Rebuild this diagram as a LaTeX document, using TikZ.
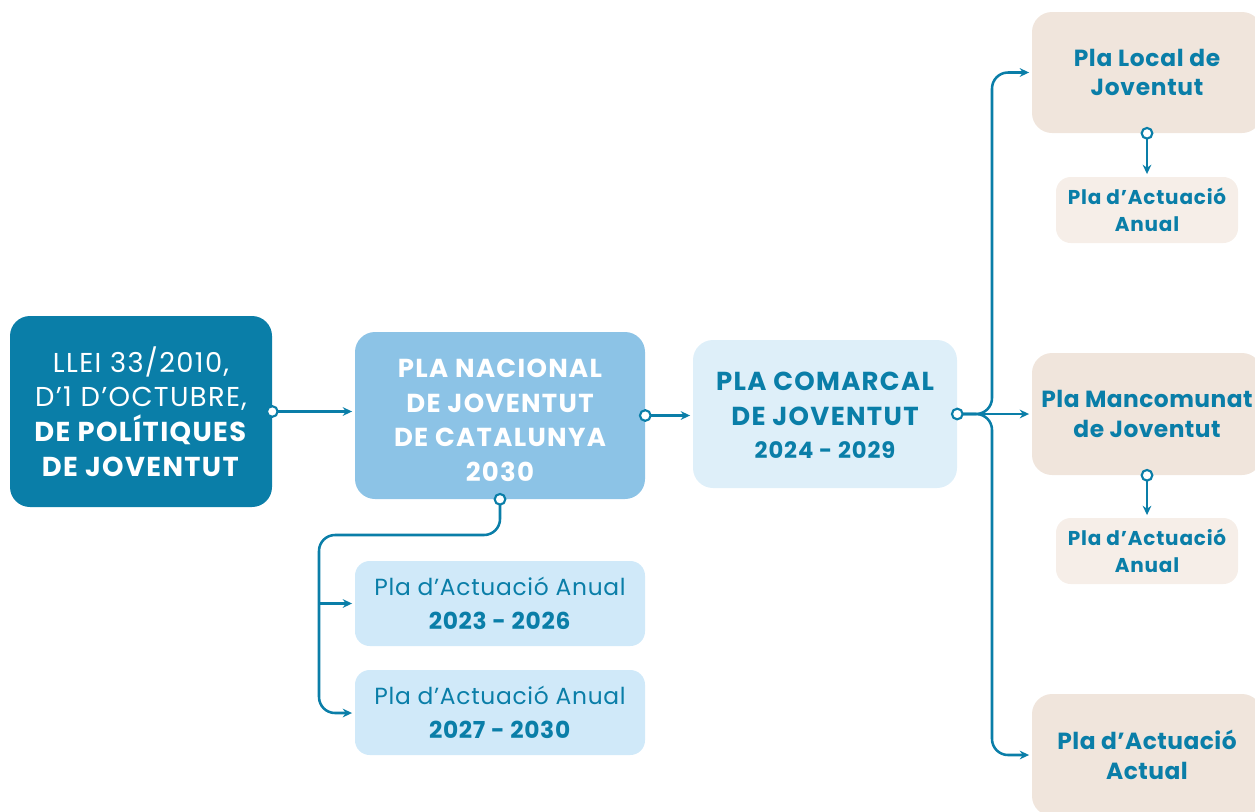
\documentclass[tikz,border=0pt]{standalone}
\usepackage{fontspec}
\setmainfont{Poppins}
\usetikzlibrary{arrows.meta}
\definecolor{teal1}{HTML}{0A7EA8}
\definecolor{nacfill}{HTML}{8CC3E6}
\definecolor{comfill}{HTML}{DEEFF9}
\definecolor{anfill}{HTML}{D0E9F9}
\definecolor{locfill}{HTML}{F0E5DC}
\definecolor{smfill}{HTML}{F6EEE8}
\newcommand{\lsp}[1]{\addfontfeatures{LetterSpace=#1}}
\tikzset{
  box/.style={rounded corners=15pt, inner sep=0pt, align=center, text=teal1},
  conn/.style={draw=teal1, line width=1.9pt, -{Stealth[length=7pt,width=6.5pt]}, shorten >=2pt},
  dotc/.style={circle, draw=teal1, fill=white, line width=1.6pt, minimum size=8pt, inner sep=0pt},
}
\begin{document}
\begin{tikzpicture}[x=0.75pt,y=-0.75pt]
\useasboundingbox (0,0) rectangle (1255,811);
% boxes
\node[box, fill=teal1, text=white, minimum width=196.5pt, minimum height=143.25pt,
  font=\fontsize{20.5}{26}\selectfont\lsp{5}] (llei) at (141,411.5)
  {LLEI 33/2010,\\D’1 D’OCTUBRE,\\\textbf{DE POLÍTIQUES}\\\textbf{DE JOVENTUT}};
\node[box, fill=nacfill, text=white, minimum width=217.5pt, minimum height=125.25pt,
  font=\bfseries\fontsize{19.5}{26}\selectfont\lsp{5}] (nac) at (500,415.5)
  {\rule{0pt}{21pt}PLA NACIONAL\\DE JOVENTUT\\DE CATALUNYA\\2030};
\node[box, fill=comfill, minimum width=198pt, minimum height=111pt,
  font=\bfseries\fontsize{19.5}{26}\selectfont\lsp{5}] (com) at (825,414)
  {\rule{0pt}{16pt}PLA COMARCAL\\DE JOVENTUT\\[-1pt]{\fontsize{17}{26}\selectfont\lsp{4} 2024 - 2029}};
\node[box, fill=anfill, rounded corners=11pt, minimum width=217.5pt, minimum height=63.75pt,
  font=\fontsize{17.5}{26}\selectfont\lsp{3}] (a1) at (500,603.5)
  {Pla d’Actuació Anual\\\textbf{2023 - 2026}};
\node[box, fill=anfill, rounded corners=11pt, minimum width=217.5pt, minimum height=63.75pt,
  font=\fontsize{17.5}{26}\selectfont\lsp{3}] (a2) at (500,712.5)
  {Pla d’Actuació Anual\\\textbf{2027 - 2030}};
\node[box, fill=locfill, minimum width=172.5pt, minimum height=90.75pt,
  font=\bfseries\fontsize{17.5}{22}\selectfont\lsp{3}] (loc) at (1147,72.5)
  {Pla Local de\\Joventut};
\node[box, fill=smfill, rounded corners=11pt, minimum width=136.5pt, minimum height=49.5pt,
  font=\bfseries\fontsize{15}{20.5}\selectfont\lsp{4}] (sa1) at (1147,210)
  {Pla d’Actuació\\Anual};
\node[box, fill=locfill, minimum width=172.5pt, minimum height=91.5pt,
  font=\bfseries\fontsize{17.5}{22}\selectfont\lsp{2}] (man) at (1147,414)
  {Pla Mancomunat\\de Joventut};
\node[box, fill=smfill, rounded corners=11pt, minimum width=136.5pt, minimum height=49.5pt,
  font=\bfseries\fontsize{15}{20.5}\selectfont\lsp{4}] (sa2) at (1147,551)
  {Pla d’Actuació\\Anual};
\node[box, fill=locfill, minimum width=172.5pt, minimum height=91.5pt,
  font=\bfseries\fontsize{17.5}{22}\selectfont\lsp{2}] (act) at (1147,755)
  {Pla d’Actuació\\Actual};
% bend coordinates
\coordinate (b1) at (500,535);
\coordinate (b2) at (319,535);
\coordinate (b3) at (319,713);
\coordinate (t1) at (319,603.5);
\coordinate (r0) at (992,414);
\coordinate (r1) at (992,72.5);
\coordinate (r2) at (992,755);
% connectors
\draw[conn] (llei.east) -- (llei.east -| nac.west);
\draw[conn] (nac.east) -- (com.west |- nac.east);
\draw[conn, rounded corners=12pt] (nac.south) -- (b1) -- (b2) -- (b3) -- (a2.west |- b3);
\draw[conn] (t1) -- (a1.west);
\draw[conn, rounded corners=12pt] (com.east) -- (r0) -- (r1) -- (loc.west);
\draw[conn, rounded corners=12pt] (com.east) -- (r0) -- (r2) -- (act.west);
\draw[conn] (com.east) -- (man.west);
\draw[conn] (loc.south) -- (sa1.north);
\draw[conn] (man.south) -- (sa2.north);
% dots
\node[dotc] at (llei.east) {};
\node[dotc] at (nac.east) {};
\node[dotc] at (nac.south) {};
\node[dotc] at (com.east) {};
\node[dotc] at (loc.south) {};
\node[dotc] at (man.south) {};
\end{tikzpicture}
\end{document}
